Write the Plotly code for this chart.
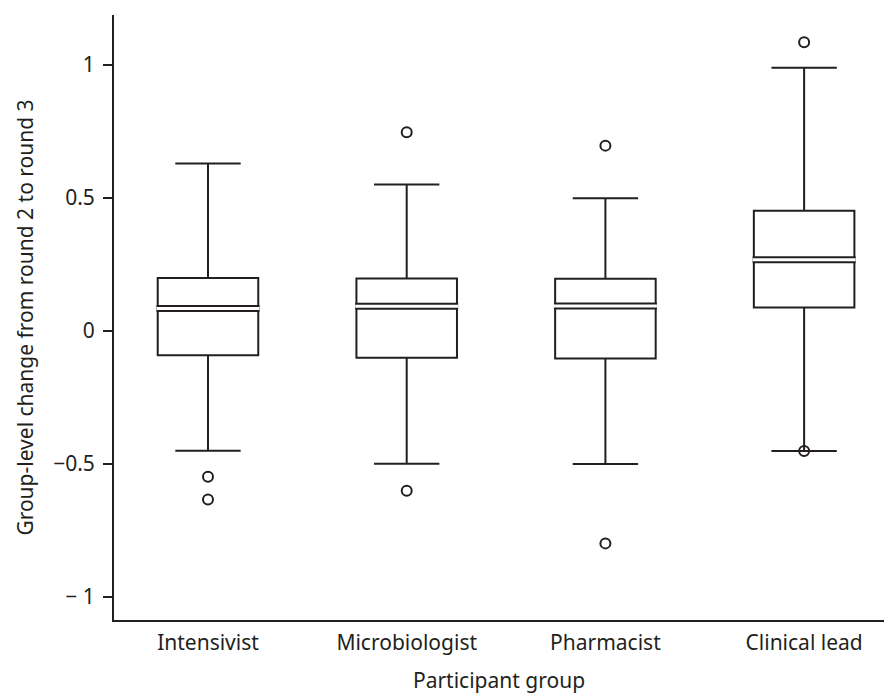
import plotly.graph_objects as go

groups = ["Intensivist", "Microbiologist", "Pharmacist", "Clinical lead"]
q1 = [-0.091, -0.100, -0.103, 0.089]
median = [0.085, 0.093, 0.094, 0.268]
q3 = [0.199, 0.198, 0.197, 0.452]
lower_whisker = [-0.450, -0.499, -0.500, -0.451]
upper_whisker = [0.630, 0.551, 0.499, 0.990]
outlier_group = [0, 0, 1, 1, 2, 2, 3, 3]
outlier_value = [-0.548, -0.633, 0.747, -0.600, 0.697, -0.798, 1.086, -0.451]

INK = "#231f20"
FONT = "Noto Sans"
pos = list(range(len(groups)))
box_w = 0.506
px = 1 / 198.7  # data units per pixel on x

fig = go.Figure()
fig.add_trace(go.Box(
    x=pos, q1=q1, median=median, q3=q3,
    lowerfence=lower_whisker, upperfence=upper_whisker,
    width=box_w, whiskerwidth=0.65,
    fillcolor="white", line=dict(color=INK, width=2),
    boxpoints=False, hoverinfo="skip", showlegend=False,
))

# split median: black band with white centre
for i, m in zip(pos, median):
    xs = [i - box_w / 2 - 1.2 * px, i + box_w / 2 + 1.2 * px]
    fig.add_trace(go.Scatter(x=xs, y=[m, m], mode="lines",
                             line=dict(color=INK, width=7),
                             hoverinfo="skip", showlegend=False))
    fig.add_trace(go.Scatter(x=xs, y=[m, m], mode="lines",
                             line=dict(color="white", width=3),
                             hoverinfo="skip", showlegend=False))

fig.add_trace(go.Scatter(
    x=outlier_group, y=outlier_value, mode="markers",
    marker=dict(symbol="circle-open", size=10, color=INK, line=dict(width=2)),
    hoverinfo="skip", showlegend=False,
))

fig.update_layout(
    width=884, height=700,
    margin=dict(l=114, r=0, t=15, b=80),
    plot_bgcolor="white", paper_bgcolor="white",
    font=dict(family=FONT, size=21, color=INK),
    xaxis=dict(
        range=[-0.473, 3.402], tickvals=pos, ticktext=groups,
        showline=True, linecolor=INK, linewidth=2, ticks="",
        showgrid=False, zeroline=False, automargin=False,
        ticklabelstandoff=3,
        title=dict(text="Participant group", standoff=18, font=dict(size=21)),
    ),
    yaxis=dict(
        range=[-1.086, 1.188], tickvals=[-1, -0.5, 0, 0.5, 1],
        ticktext=["\u2212 1", "\u22120.5", "0", "0.5", "1"],
        showline=True, linecolor=INK, linewidth=2,
        ticks="outside", ticklen=9, tickwidth=2, tickcolor=INK,
        showgrid=False, zeroline=False, automargin=False,
        ticklabelstandoff=4,
        title=dict(text="Group-level change from round 2 to round 3", standoff=14, font=dict(size=21)),
    ),
)

fig.write_html("out.html", config={"displayModeBar": False},
               post_script="document.body.style.margin='0';")
